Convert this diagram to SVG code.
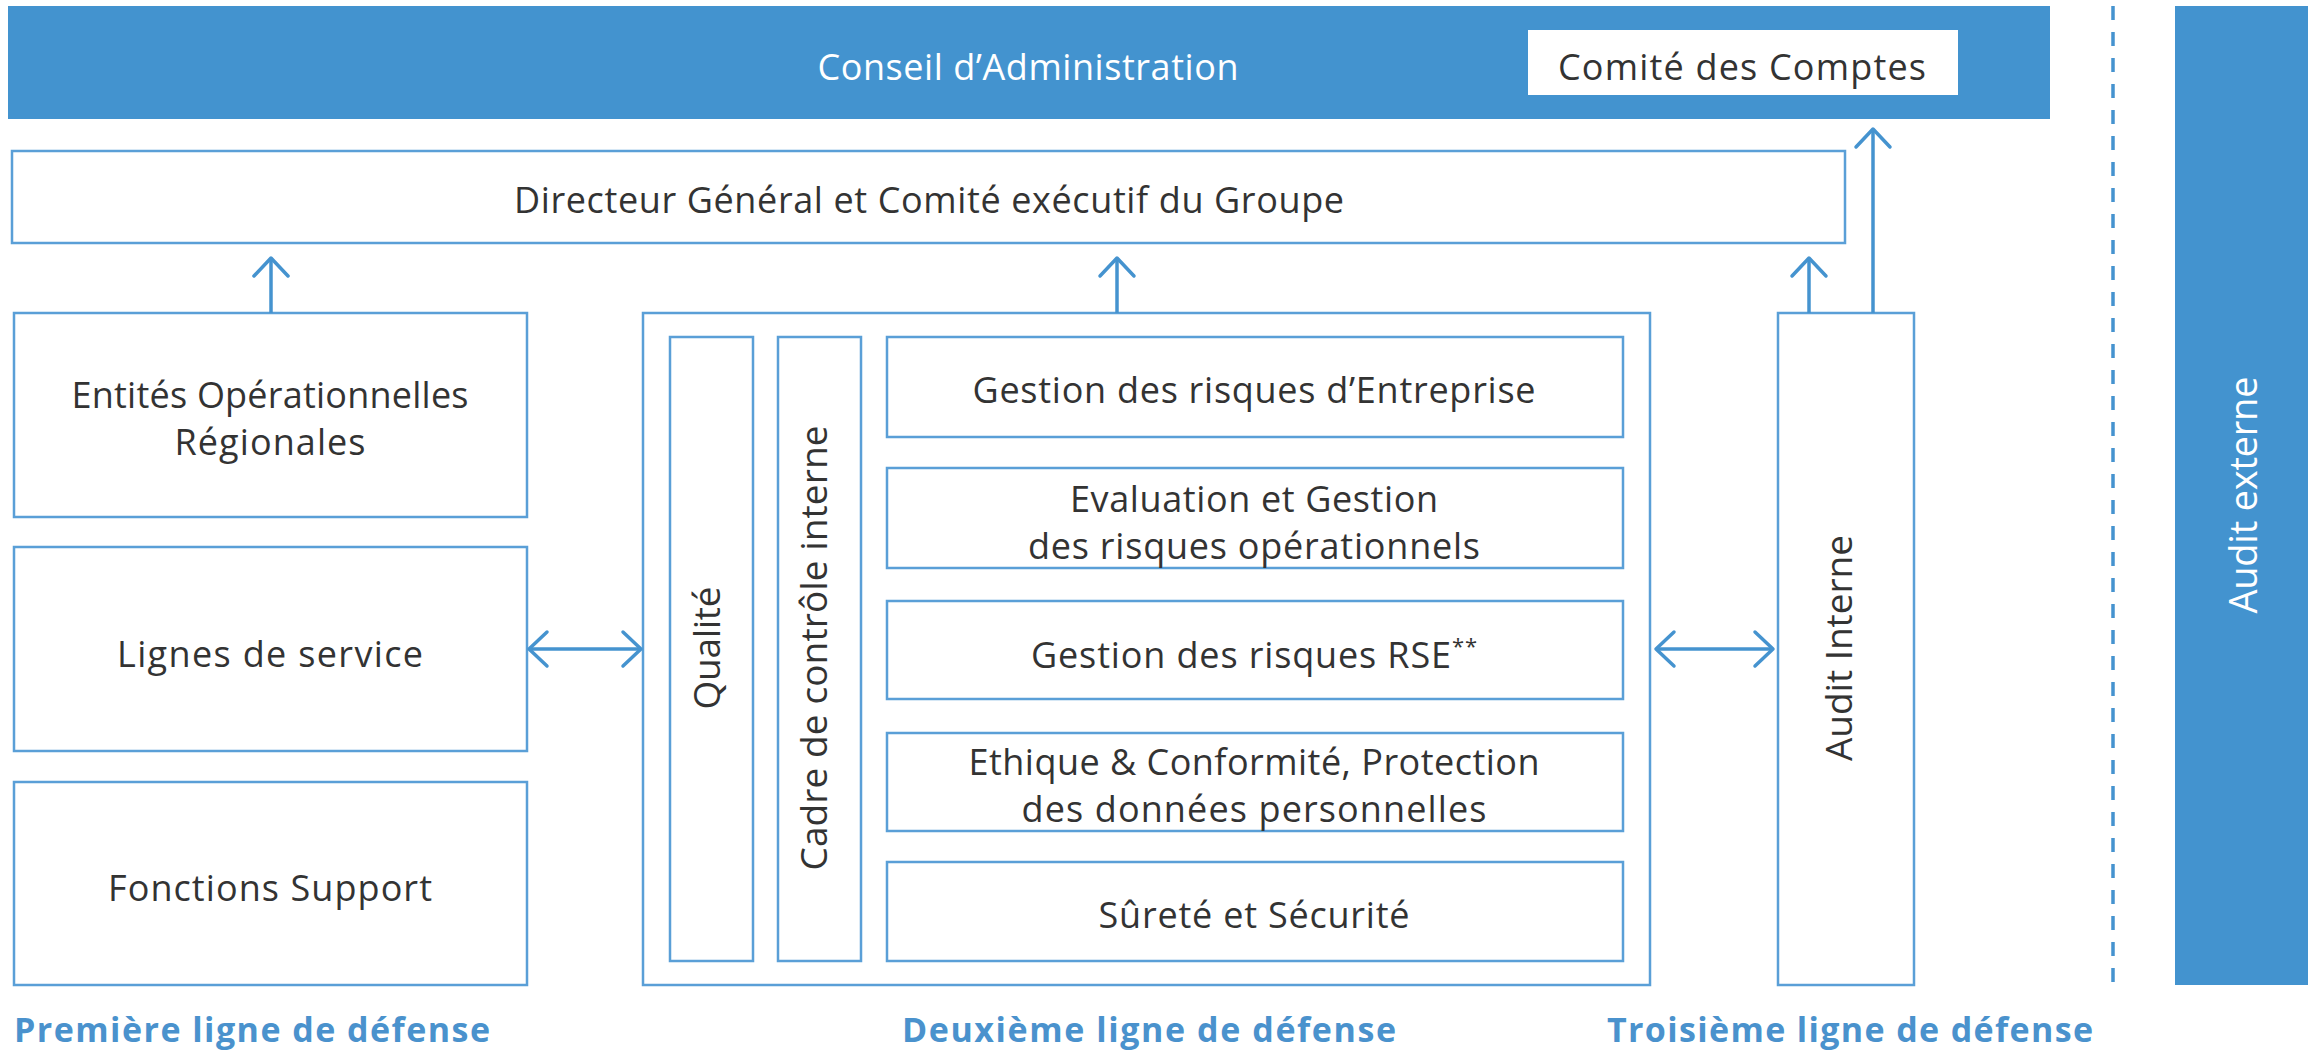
<svg xmlns="http://www.w3.org/2000/svg" width="2308" height="1052" viewBox="0 0 2308 1052">
<style>
.box{fill:#ffffff;stroke:#5a9fd7;stroke-width:2.5}
.fill{fill:#4393cf}
.t{font-family:"Open Sans","Liberation Sans",sans-serif;font-size:36px;fill:#333333;text-anchor:middle}
.tw{font-family:"Open Sans","Liberation Sans",sans-serif;font-size:36px;fill:#ffffff;text-anchor:middle}
.v{font-family:"Open Sans","Liberation Sans",sans-serif;font-size:37px;fill:#333333;text-anchor:middle}
.vw{font-family:"Open Sans","Liberation Sans",sans-serif;font-size:38px;fill:#ffffff;text-anchor:middle}
.lbl{font-family:"Open Sans","Liberation Sans",sans-serif;font-size:34px;font-weight:bold;fill:#4a92cd}
.arr{fill:none;stroke:#4593cf;stroke-width:3.5}
</style>
<defs>
<marker id="head" markerUnits="userSpaceOnUse" viewBox="-22 -20 26 40" refX="0" refY="0" markerWidth="26" markerHeight="40" orient="auto-start-reverse">
<path d="M -18 -17 L 0 0 L -18 17" fill="none" stroke="#4593cf" stroke-width="3.5" stroke-linecap="round" stroke-linejoin="round"/>
</marker>
</defs>
<rect x="0" y="0" width="2308" height="1052" fill="#ffffff"/>
<g id="conseil">
<rect class="fill" x="8" y="6" width="2042" height="113"/>
<text class="tw" x="1028" y="80" textLength="421">Conseil d’Administration</text>
</g>
<g id="comite">
<rect x="1528" y="30" width="430" height="65" fill="#ffffff"/>
<text class="t" x="1742" y="80" textLength="368">Comité des Comptes</text>
</g>
<g id="dg">
<rect class="box" x="12" y="151" width="1833" height="92"/>
<text class="t" x="929" y="213" textLength="830">Directeur Général et Comité exécutif du Groupe</text>
</g>
<g id="entites">
<rect class="box" x="14" y="313" width="513" height="204"/>
<text class="t" x="270" y="408" textLength="397">Entités Opérationnelles</text>
<text class="t" x="270" y="455" textLength="191">Régionales</text>
</g>
<g id="lignes">
<rect class="box" x="14" y="547" width="513" height="204"/>
<text class="t" x="270" y="667" textLength="306">Lignes de service</text>
</g>
<g id="fonctions">
<rect class="box" x="14" y="782" width="513" height="203"/>
<text class="t" x="270" y="901" textLength="324">Fonctions Support</text>
</g>
<g id="deuxieme">
<rect class="box" x="643" y="313" width="1007" height="672"/>
</g>
<g id="qualite">
<rect class="box" x="670" y="337" width="83" height="624"/>
<text class="v" transform="translate(720 648) rotate(-90)" x="0" y="0" textLength="123">Qualité</text>
</g>
<g id="cadre">
<rect class="box" x="778" y="337" width="83" height="624"/>
<text class="v" transform="translate(827 648) rotate(-90)" x="0" y="0" textLength="445">Cadre de contrôle interne</text>
</g>
<g id="erm">
<rect class="box" x="887" y="337" width="736" height="100"/>
<text class="t" x="1254" y="403" textLength="563">Gestion des risques d’Entreprise</text>
</g>
<g id="oprisk">
<rect class="box" x="887" y="468" width="736" height="100"/>
<text class="t" x="1254" y="512" textLength="368">Evaluation et Gestion</text>
<text class="t" x="1254" y="559" textLength="452">des risques opérationnels</text>
</g>
<g id="rse">
<rect class="box" x="887" y="601" width="736" height="98"/>
<text class="t" x="1254" y="668" textLength="446">Gestion des risques RSE<tspan font-size="22" dy="-14">**</tspan></text>
</g>
<g id="ethique">
<rect class="box" x="887" y="733" width="736" height="98"/>
<text class="t" x="1254" y="775" textLength="571">Ethique &amp; Conformité, Protection</text>
<text class="t" x="1254" y="822" textLength="465">des données personnelles</text>
</g>
<g id="surete">
<rect class="box" x="887" y="862" width="736" height="99"/>
<text class="t" x="1254" y="928" textLength="311">Sûreté et Sécurité</text>
</g>
<g id="audit-interne">
<rect class="box" x="1778" y="313" width="136" height="672"/>
<text class="v" transform="translate(1852 648) rotate(-90)" x="0" y="0" textLength="226">Audit Interne</text>
</g>
<g id="audit-externe">
<rect class="fill" x="2175" y="6" width="133" height="979"/>
<text class="vw" transform="translate(2257 495) rotate(-90)" x="0" y="0" textLength="237">Audit externe</text>
</g>
<g id="separator">
<line x1="2113" y1="6" x2="2113" y2="987" stroke="#4593cf" stroke-width="3.5" stroke-dasharray="14 12"/>
</g>
<g id="labels">
<text class="lbl" x="14" y="1042" textLength="476">Première ligne de défense</text>
<text class="lbl" x="902" y="1042" textLength="494">Deuxième ligne de défense</text>
<text class="lbl" x="1607" y="1042" textLength="486">Troisième ligne de défense</text>
</g>
<g id="connectors">
<line class="arr" x1="271" y1="313" x2="271" y2="258" marker-end="url(#head)"/>
<line class="arr" x1="1117" y1="313" x2="1117" y2="258" marker-end="url(#head)"/>
<line class="arr" x1="1809" y1="313" x2="1809" y2="258" marker-end="url(#head)"/>
<line class="arr" x1="1873" y1="313" x2="1873" y2="129" marker-end="url(#head)"/>
<line class="arr" x1="529" y1="649" x2="641" y2="649" marker-start="url(#head)" marker-end="url(#head)"/>
<line class="arr" x1="1656" y1="649" x2="1773" y2="649" marker-start="url(#head)" marker-end="url(#head)"/>
</g>
</svg>
